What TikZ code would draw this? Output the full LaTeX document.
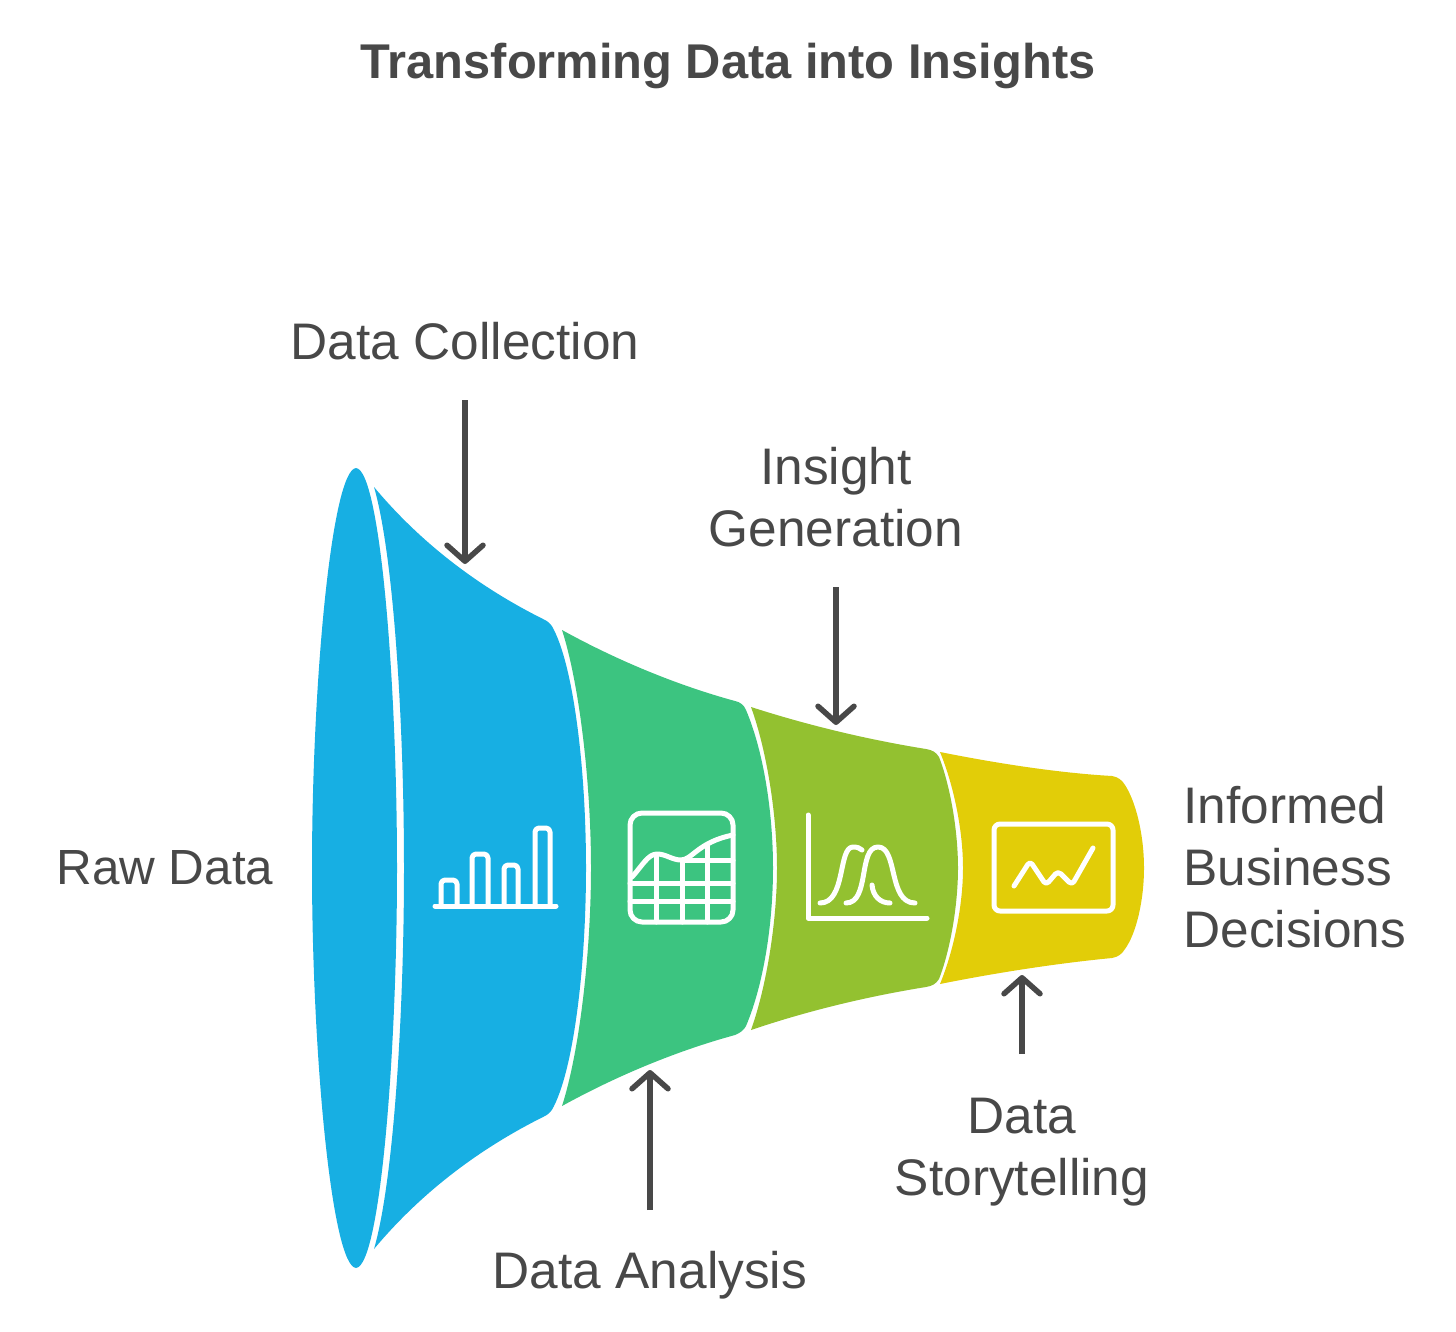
\documentclass[tikz,border=0pt]{standalone}
\usepackage{fontspec}
\setmainfont{Liberation Sans}
\usetikzlibrary{arrows.meta}
\definecolor{inkgrey}{HTML}{484848}
\definecolor{funnelblue}{HTML}{17AFE3}
\definecolor{funnelgreen}{HTML}{3CC480}
\definecolor{funnellime}{HTML}{93C130}
\definecolor{funnelyellow}{HTML}{E2CD08}
\tikzset{
    label/.style={text=inkgrey, inner sep=0pt, align=center, font=\fontsize{25.7}{31}\selectfont},
    pointer/.style={draw=inkgrey, line width=2.75pt, -{Straight Barb[length=8pt,width=18pt,line cap=round,round]}},
    icon/.style={draw=white, line width=2.5pt, line cap=round, line join=round},
}

\begin{document}
\begin{tikzpicture}[x=0.5pt, y=-0.5pt]
    \useasboundingbox (0,0) rectangle (1456,1332);

    \fill[funnelblue] (356,468) .. controls (332,470) and (312,680) .. (312,868)
        .. controls (312,1056) and (332,1266) .. (356,1268)
        .. controls (380,1266) and (397,1056) .. (397,868)
        .. controls (397,680) and (380,470) .. (356,468) -- cycle;
    \fill[funnelblue] (374,487) .. controls (425,548) and (485,590) .. (543,619)
        .. controls (548,621) and (552,625) .. (554,630)
        .. controls (574,670) and (586,770) .. (586,868)
        .. controls (586,966) and (574,1066) .. (554,1106)
        .. controls (552,1111) and (548,1115) .. (543,1117)
        .. controls (485,1146) and (425,1188) .. (374,1249)
        .. controls (394,1180) and (404,1010) .. (404,868)
        .. controls (404,726) and (394,556) .. (374,487) -- cycle;
    \fill[funnelgreen] (562,630) .. controls (620,662) and (680,686) .. (735,701)
        .. controls (740,702) and (744,705) .. (746,710)
        .. controls (763,750) and (773,810) .. (773,868)
        .. controls (773,926) and (763,986) .. (746,1026)
        .. controls (744,1030) and (740,1033) .. (735,1035)
        .. controls (680,1050) and (620,1074) .. (562,1106)
        .. controls (580,1050) and (591,950) .. (591,868)
        .. controls (591,786) and (580,686) .. (562,630) -- cycle;
    \fill[funnellime] (751,707) .. controls (810,726) and (870,740) .. (926,749)
        .. controls (932,750) and (936,752) .. (939,757)
        .. controls (950,785) and (958,830) .. (958,868)
        .. controls (958,906) and (950,951) .. (939,979)
        .. controls (936,984) and (932,986) .. (926,987)
        .. controls (870,996) and (810,1010) .. (751,1030)
        .. controls (767,985) and (777,920) .. (777,868)
        .. controls (777,816) and (767,751) .. (751,707) -- cycle;
    \fill[funnelyellow] (940,752) .. controls (1000,764) and (1060,773) .. (1112,776)
        .. controls (1118,777) and (1122,780) .. (1125,785)
        .. controls (1136,802) and (1144,835) .. (1144,868)
        .. controls (1144,901) and (1136,934) .. (1125,949)
        .. controls (1122,954) and (1118,957) .. (1112,958)
        .. controls (1060,963) and (1000,972) .. (940,984)
        .. controls (954,950) and (963,905) .. (963,868)
        .. controls (963,831) and (954,786) .. (940,752) -- cycle;

    \draw[icon] (435,906) -- (556,906);
    \draw[icon, rounded corners=2pt] (441,906) -- (441,880) -- (457,880) -- (457,906);
    \draw[icon, rounded corners=2pt] (472,906) -- (472,854) -- (488,854) -- (488,906);
    \draw[icon, rounded corners=2pt] (504,906) -- (504,865) -- (518,865) -- (518,906);
    \draw[icon, rounded corners=2pt] (535,906) -- (535,828) -- (550,828) -- (550,906);

    \draw[icon, rounded corners=6pt] (630,813) rectangle (733,922);
    \draw[icon] (632,877) .. controls (642,866) and (648,854) .. (657,854)
        .. controls (666,854) and (672,860) .. (681,860)
        .. controls (692,860) and (698,842) .. (733,835);
    \draw[icon] (630,883) -- (733,883);
    \draw[icon] (630,901) -- (733,901);
    \draw[icon] (682,860) -- (733,860);
    \foreach \gridx/\gridtop in {656/855, 682/860, 707/845} {
        \draw[icon] (\gridx,\gridtop) -- (\gridx,922);
    }

    \draw[icon] (808,815) -- (808,918) -- (927,918);
    \draw[icon] (820,903) .. controls (846,903) and (838,847) .. (853,847)
        .. controls (857,847) and (860,848) .. (862,850);
    \draw[icon] (846,903) .. controls (870,903) and (858,847) .. (878,847)
        .. controls (898,847) and (888,903) .. (915,903);
    \draw[icon] (872,885) .. controls (873,896) and (880,903) .. (890,903);

    \draw[icon, rounded corners=3pt] (994,824) rectangle (1113,911);
    \draw[icon, rounded corners=2pt] (1014,886) -- (1030,861) -- (1046,885) -- (1058,871)
        -- (1072,885) -- (1093,848);

    \node[font=\bfseries\fontsize{24.4}{31}\selectfont, text=inkgrey, inner sep=0pt] (title) at (728,66) {Transforming Data into Insights};
    \node[label] (collection) at (465,341) {Data Collection};
    \node[label] (insight) at (836,497) {Insight\\Generation};
    \node[label, anchor=west, font=\fontsize{24.7}{31}\selectfont] (rawdata) at (56,868) {Raw Data};
    \node[label, anchor=west, align=left] (decisions) at (1183,867) {Informed\\Business\\Decisions};
    \node[label] (storytelling) at (1022,1152) {Data\\Storytelling};
    \node[label] (analysis) at (650,1275) {Data Analysis};

    \coordinate (collectionfrom) at (465,400);
    \coordinate (collectionto) at (465,564);
    \coordinate (insightfrom) at (836,587);
    \coordinate (insightto) at (836,725);
    \coordinate (analysisfrom) at (650,1210);
    \coordinate (analysisto) at (650,1070);
    \coordinate (storyfrom) at (1022,1054);
    \coordinate (storyto) at (1022,975);

    \draw[pointer] (collectionfrom) -- (collectionto);
    \draw[pointer] (insightfrom) -- (insightto);
    \draw[pointer] (analysisfrom) -- (analysisto);
    \draw[pointer] (storyfrom) -- (storyto);
\end{tikzpicture}
\end{document}
